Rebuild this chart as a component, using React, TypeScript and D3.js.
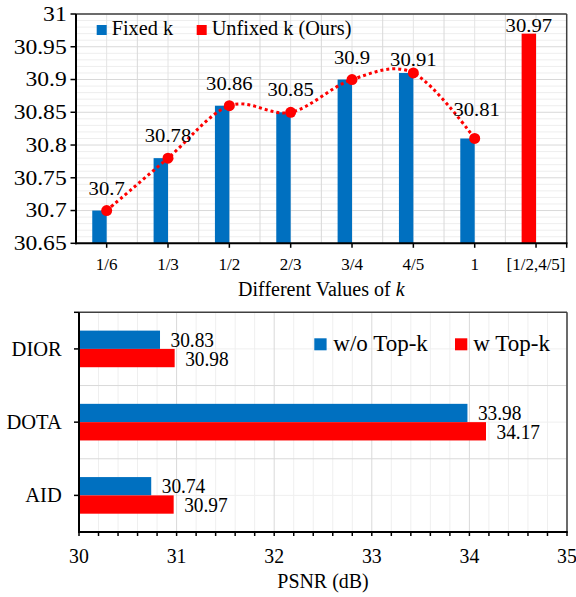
import React from "react";
import * as d3 from "d3";

// ---------- Data ----------
const kLabels = ["1/6", "1/3", "1/2", "2/3", "3/4", "4/5", "1", "[1/2,4/5]"];
const fixedK: (number | null)[] = [30.7, 30.78, 30.86, 30.85, 30.9, 30.91, 30.81, null];
const unfixedK: (number | null)[] = [null, null, null, null, null, null, null, 30.97];
const topTicks = [30.65, 30.7, 30.75, 30.8, 30.85, 30.9, 30.95, 31];
const topTickLabels = ["30.65", "30.7", "30.75", "30.8", "30.85", "30.9", "30.95", "31"];

const datasets = ["DIOR", "DOTA", "AID"];
const withoutTopK = [30.83, 33.98, 30.74];
const withTopK = [30.98, 34.17, 30.97];
const psnrTicks = [30, 31, 32, 33, 34, 35];

// label styling nudges (pixels) for the line labels
const lineLabelDy = [0, 0, 0, 0, 0, 9, -6, 0];
const lineLabelDx = [0, 0, 0, 0, 0, 0, 2, 0];

const BLUE = "#0070C0";
const RED = "#FF0000";
const FONT = "Liberation Serif";

function T({ x, y, size, sx = 1, sy = 1, anchor = "middle", children }: any) {
  return (
    <text
      transform={`translate(${x},${y}) scale(${sx},${sy})`}
      style={{ fontFamily: FONT, fontSize: size + "px" }}
      textAnchor={anchor}
      fill="#000"
    >
      {children}
    </text>
  );
}

function TopChart() {
  const left = 76, right = 566.7, top = 14, bottom = 243.3;
  const x = d3.scaleBand<string>().domain(kLabels).range([left, right]).padding(0);
  const bw = x.bandwidth();
  const barW = bw * 0.235;
  const y = d3.scaleLinear().domain([30.65, 31]).range([bottom, top]);
  const cx = (c: string) => (x(c) as number) + bw / 2;

  const minor = d3.range(0, 36).map((i) => 30.65 + i * 0.01).filter((v) => Math.abs(Math.round(v * 20) - v * 20) > 1e-6);

  const pts = kLabels
    .map((c, i) => ({ c, v: fixedK[i], i }))
    .filter((d) => d.v != null) as { c: string; v: number; i: number }[];
  const line = d3
    .line<{ c: string; v: number }>()
    .x((d) => cx(d.c))
    .y((d) => y(d.v))
    .curve(d3.curveCardinal.tension(0));

  return (
    <g>
      {minor.map((v, i) => (
        <line key={"mn" + i} x1={left} x2={right} y1={y(v)} y2={y(v)} stroke="#eeeeee" strokeWidth={1} />
      ))}
      {kLabels.map((c, i) => (
        <line key={"vm" + i} x1={cx(c)} x2={cx(c)} y1={top} y2={bottom} stroke="#e4e4e4" strokeWidth={1} />
      ))}
      {kLabels.map((c, i) =>
        i > 0 ? (
          <line key={"vb" + i} x1={x(c)} x2={x(c)} y1={top} y2={bottom} stroke="#d9d9d9" strokeWidth={1} />
        ) : null
      )}
      {topTicks.map((v, i) => (
        <line key={"mj" + i} x1={left} x2={right} y1={y(v)} y2={y(v)} stroke="#d9d9d9" strokeWidth={1} />
      ))}
      {/* bars */}
      {kLabels.map((c, i) =>
        fixedK[i] != null ? (
          <rect key={"fb" + i} x={cx(c) - barW} y={y(fixedK[i] as number)} width={barW}
            height={bottom - y(fixedK[i] as number)} fill={BLUE} />
        ) : null
      )}
      {kLabels.map((c, i) =>
        unfixedK[i] != null ? (
          <rect key={"ub" + i} x={cx(c) - barW} y={y(unfixedK[i] as number)} width={barW}
            height={bottom - y(unfixedK[i] as number)} fill={RED} />
        ) : null
      )}
      {/* frame */}
      <line x1={left} x2={right} y1={top} y2={top} stroke="#404040" strokeWidth={1.5} />
      <line x1={right} x2={right} y1={top} y2={bottom} stroke="#404040" strokeWidth={1.5} />
      <line x1={left} x2={left} y1={top} y2={bottom + 1} stroke="#000" strokeWidth={2} />
      <line x1={left - 1} x2={right + 0.75} y1={bottom} y2={bottom} stroke="#000" strokeWidth={2} />
      {topTicks.map((v, i) => (
        <line key={"yt" + i} x1={left - 5.5} x2={left} y1={y(v)} y2={y(v)} stroke="#000" strokeWidth={1.5} />
      ))}
      {kLabels.map((c, i) => (
        <line key={"xt" + i} x1={cx(c)} x2={cx(c)} y1={bottom} y2={bottom + 4.5} stroke="#000" strokeWidth={1.5} />
      ))}
      <line x1={right} x2={right} y1={bottom} y2={bottom + 4.5} stroke="#000" strokeWidth={1.5} />
      {/* dotted smooth line */}
      <path d={line(pts) || ""} fill="none" stroke={RED} strokeWidth={3} strokeDasharray="3 3" />
      {pts.map((d) => (
        <circle key={"pt" + d.i} cx={cx(d.c)} cy={y(d.v)} r={5.5} fill={RED} />
      ))}
      {/* labels */}
      {pts.map((d) => (
        <T key={"pl" + d.i} x={cx(d.c) + lineLabelDx[d.i]} y={y(d.v) - 16 + lineLabelDy[d.i]} size={19.5} sx={1.06}>
          {String(d.v)}
        </T>
      ))}
      {kLabels.map((c, i) =>
        unfixedK[i] != null ? (
          <T key={"ul" + i} x={cx(c) - barW / 2} y={y(unfixedK[i] as number) - 1.5} size={19.5} sx={1.06}>
            {String(unfixedK[i])}
          </T>
        ) : null
      )}
      {topTicks.map((v, i) => (
        <T key={"ytl" + i} x={66.7} y={y(v) + 6.8} size={20} sx={1.18} anchor="end">
          {topTickLabels[i]}
        </T>
      ))}
      {kLabels.map((c, i) => (
        <T key={"xtl" + i} x={cx(c)} y={270} size={17}>
          {c}
        </T>
      ))}
      <text x={(left + right) / 2} y={296} style={{ fontFamily: FONT, fontSize: "20px" }} textAnchor="middle" fill="#000">
        Different Values of <tspan fontStyle="italic">k</tspan>
      </text>
      {/* legend */}
      <rect x={96.7} y={25} width={10} height={10} fill={BLUE} />
      <T x={111.7} y={35} size={20.3} anchor="start">Fixed k</T>
      <rect x={196.7} y={25} width={10} height={10} fill={RED} />
      <T x={211.7} y={35} size={20.3} anchor="start">Unfixed k (Ours)</T>
    </g>
  );
}

function BottomChart() {
  const left = 79, right = 567, top = 312.3, bottom = 532;
  const x = d3.scaleLinear().domain([30, 35]).range([left, right]);
  const y = d3.scaleBand<string>().domain(datasets).range([top, bottom]).padding(0);
  const bh = y.bandwidth();
  const barH = bh * 0.25;
  const cy = (d: string) => (y(d) as number) + bh / 2;
  const minorX = d3.range(0, 26).map((i) => 30 + i * 0.2).filter((v) => Math.abs(v - Math.round(v)) > 1e-6);

  return (
    <g>
      {minorX.map((v, i) => (
        <line key={"mx" + i} x1={x(v)} x2={x(v)} y1={top} y2={bottom} stroke="#efefef" strokeWidth={1} />
      ))}
      {datasets.map((d, i) => (
        <line key={"hc" + i} x1={left} x2={right} y1={cy(d)} y2={cy(d)} stroke="#efefef" strokeWidth={1} />
      ))}
      {psnrTicks.map((v, i) => (
        <line key={"gx" + i} x1={x(v)} x2={x(v)} y1={top} y2={bottom} stroke="#d9d9d9" strokeWidth={1} />
      ))}
      {datasets.map((d, i) =>
        i > 0 ? (
          <line key={"hb" + i} x1={left} x2={right} y1={y(d)} y2={y(d)} stroke="#d9d9d9" strokeWidth={1} />
        ) : null
      )}
      {datasets.map((d, i) => (
        <rect key={"bb" + i} x={left} y={cy(d) - barH} width={x(withoutTopK[i]) - left} height={barH} fill={BLUE} />
      ))}
      {datasets.map((d, i) => (
        <rect key={"rb" + i} x={left} y={cy(d)} width={x(withTopK[i]) - left} height={barH} fill={RED} />
      ))}
      {/* frame */}
      <line x1={left} x2={right} y1={top} y2={top} stroke="#404040" strokeWidth={1.5} />
      <line x1={right} x2={right} y1={top} y2={bottom} stroke="#404040" strokeWidth={1.5} />
      <line x1={left} x2={left} y1={top} y2={bottom + 1} stroke="#000" strokeWidth={2} />
      <line x1={left - 1} x2={right + 0.75} y1={bottom} y2={bottom} stroke="#000" strokeWidth={2} />
      <line x1={left - 5} x2={left} y1={top} y2={top} stroke="#000" strokeWidth={1.5} />
      {datasets.map((d, i) => (
        <line key={"yt" + i} x1={left - 5} x2={left} y1={cy(d)} y2={cy(d)} stroke="#000" strokeWidth={1.5} />
      ))}
      {d3.range(0, 26).map((i) => (
        <line key={"xt" + i} x1={x(30 + i * 0.2)} x2={x(30 + i * 0.2)} y1={bottom} y2={bottom + 4} stroke="#000" strokeWidth={1.5} />
      ))}
      {/* value labels */}
      {datasets.map((d, i) => (
        <T key={"bl" + i} x={x(withoutTopK[i]) + 10.5} y={cy(d) - barH / 2 + 7} size={21.5} sx={0.9} anchor="start">
          {withoutTopK[i].toFixed(2)}
        </T>
      ))}
      {datasets.map((d, i) => (
        <T key={"rl" + i} x={x(withTopK[i]) + 10.5} y={cy(d) + barH / 2 + 7.5} size={21.5} sx={0.9} anchor="start">
          {withTopK[i].toFixed(2)}
        </T>
      ))}
      {datasets.map((d, i) => (
        <T key={"ytl" + i} x={61.7} y={cy(d) + 6.8} size={20.5} anchor="end">
          {d}
        </T>
      ))}
      {psnrTicks.map((v, i) => (
        <T key={"xtl" + i} x={x(v)} y={563} size={22} sx={0.9}>
          {String(v)}
        </T>
      ))}
      <T x={(left + right) / 2} y={588} size={21} sx={0.95}>PSNR (dB)</T>
      {/* legend */}
      <rect x={314.3} y={338.3} width={12.3} height={12} fill={BLUE} />
      <T x={333.3} y={351} size={24} sx={0.96} anchor="start">w/o Top-k</T>
      <rect x={455} y={338.3} width={12.3} height={12} fill={RED} />
      <T x={473.3} y={351} size={24} sx={0.96} anchor="start">w Top-k</T>
    </g>
  );
}

export default function App() {
  return (
    <svg
      width={576}
      height={597}
      viewBox="0 0 576 597"
      style={{ position: "absolute", left: 0, top: 0, background: "#fff" }}
    >
      <rect x={0} y={0} width={576} height={597} fill="#fff" />
      <TopChart />
      <BottomChart />
    </svg>
  );
}
